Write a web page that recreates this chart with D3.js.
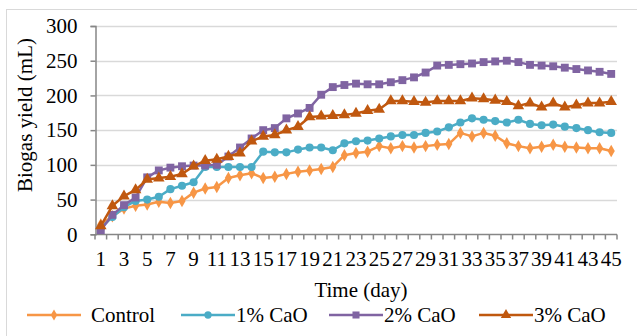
<!DOCTYPE html>
<html>
<head>
<meta charset="utf-8">
<script src="https://cdn.jsdelivr.net/npm/d3@7"></script>
<style>
  body { margin: 0; background: #fff; }
</style>
</head>
<body>
<div id="chart"></div>
<script>
// biogas yield per day
const days = d3.range(1, 46);
const control = [14, 26, 37, 41, 43, 47, 45, 48, 60, 66, 68, 81, 85, 88, 81, 83, 87, 90, 92, 94, 97, 114, 117, 119, 127, 124, 127, 125, 127, 129, 130, 146, 141, 146, 142, 131, 127, 124, 126, 129, 126, 125, 124, 124, 120];
const cao1 = [9, 25, 39, 48, 50, 54, 65, 70, 75, 97, 97, 97, 97, 97, 119, 118, 118, 122, 125, 125, 121, 131, 134, 135, 138, 141, 143, 143, 146, 148, 154, 161, 167, 165, 163, 161, 165, 159, 157, 158, 155, 153, 150, 147, 146];
const cao2 = [6, 28, 42, 53, 82, 92, 96, 98, 99, 99, 100, 112, 125, 138, 150, 153, 167, 174, 182, 201, 212, 215, 217, 216, 216, 219, 222, 226, 233, 243, 244, 245, 246, 248, 249, 250, 248, 244, 243, 242, 240, 238, 236, 234, 231];
const cao3 = [12, 41, 55, 64, 79, 81, 83, 87, 98, 106, 108, 112, 117, 134, 141, 143, 150, 155, 169, 170, 171, 172, 174, 178, 180, 192, 192, 191, 190, 192, 192, 192, 196, 195, 193, 191, 185, 189, 183, 189, 183, 186, 189, 189, 191];
const yTicks = [0, 50, 100, 150, 200, 250, 300];

const series = [
  { name: 'Control', values: control, color: '#f79646', symbol: d3.symbolDiamond, size: 45 },
  { name: '1% CaO', values: cao1, color: '#4bacc6', symbol: d3.symbolCircle, size: 52 },
  { name: '2% CaO', values: cao2, color: '#8064a2', symbol: d3.symbolSquare, size: 62 },
  { name: '3% CaO', values: cao3, color: '#c0580f', symbol: d3.symbolTriangle, size: 58 }
];

const FONT = "'Liberation Serif', serif";
const W = 637, H = 336;
const svg = d3.select('#chart').append('svg')
  .attr('width', W).attr('height', H);

// chart area border
svg.append('rect')
  .attr('x', 6.5).attr('y', 9.5)
  .attr('width', 640).attr('height', 340)
  .attr('fill', 'none').attr('stroke', '#d9d9d9');

const x = d3.scaleBand().domain(days).range([95, 617]).padding(0);
const y = d3.scaleLinear().domain([0, 300]).range([234.3, 26]);
const cx = d => x(d) + x.bandwidth() / 2;

// gridlines
svg.append('g')
  .selectAll('line')
  .data(yTicks.filter(t => t > 0))
  .enter().append('line')
  .attr('x1', 95).attr('x2', 617)
  .attr('y1', d => Math.round(y(d)) + 0.5).attr('y2', d => Math.round(y(d)) + 0.5)
  .attr('stroke', '#d9d9d9').attr('stroke-width', 1.5);

// y axis
const yAxis = svg.append('g')
  .attr('transform', 'translate(95.5,0)')
  .call(d3.axisLeft(y).tickValues(yTicks).tickSize(5).tickPadding(13));
yAxis.select('.domain').attr('stroke', '#868686').attr('stroke-width', 1.5);
yAxis.selectAll('.tick line').attr('stroke', '#868686').attr('stroke-width', 1.5);
yAxis.selectAll('.tick text')
  .attr('font-size', 21)
  .style('font-family', FONT)
  .attr('fill', '#000');

// x axis, ticks on category boundaries
const xa = svg.append('g').attr('transform', 'translate(0,' + (Math.round(y(0)) + 0.5) + ')');
xa.append('line').attr('x1', 95).attr('x2', 617).attr('stroke', '#868686').attr('stroke-width', 1.5);
xa.selectAll('.tk')
  .data(days.concat([46]))
  .enter().append('line')
  .attr('class', 'tk')
  .attr('x1', d => d <= 45 ? x(d) : 617).attr('x2', d => d <= 45 ? x(d) : 617)
  .attr('y1', 0).attr('y2', 5)
  .attr('stroke', '#868686').attr('stroke-width', 1.5);
xa.selectAll('.lbl')
  .data(days.filter(d => d % 2 === 1))
  .enter().append('text')
  .attr('class', 'lbl')
  .attr('x', cx).attr('y', 31)
  .attr('text-anchor', 'middle')
  .style('font-family', FONT)
  .attr('font-size', 21)
  .text(d => d);

// lines + markers
const line = d3.line()
  .x((d, i) => cx(days[i]))
  .y(d => y(d));

series.forEach(s => {
  const g = svg.append('g');
  g.append('path')
    .datum(s.values)
    .attr('d', line)
    .attr('fill', 'none')
    .attr('stroke', s.color)
    .attr('stroke-width', 2.5)
    .attr('stroke-linejoin', 'round');
  g.selectAll('path.mk')
    .data(s.values)
    .enter().append('path')
    .attr('class', 'mk')
    .attr('d', d3.symbol().type(s.symbol).size(s.size))
    .attr('transform', (d, i) => `translate(${cx(days[i])},${y(d)})`)
    .attr('fill', s.color);
});

// axis titles
svg.append('text')
  .attr('x', 361).attr('y', 297)
  .attr('text-anchor', 'middle')
  .style('font-family', FONT)
  .attr('font-size', 21)
  .text('Time (day)');

svg.append('text')
  .attr('transform', 'translate(32,115) rotate(-90)')
  .attr('text-anchor', 'middle')
  .style('font-family', FONT)
  .attr('font-size', 21)
  .text('Biogas yield (mL)');

// legend
const legendX = [27, 181, 329, 479];
const leg = svg.append('g');
series.forEach((s, i) => {
  const g = leg.append('g').attr('transform', `translate(${legendX[i]},315)`);
  g.append('line').attr('x1', 0).attr('x2', 54)
    .attr('stroke', s.color).attr('stroke-width', 2.5);
  g.append('path')
    .attr('d', d3.symbol().type(s.symbol).size(s.size * 0.8))
    .attr('transform', 'translate(27,0)')
    .attr('fill', s.color);
  g.append('text')
    .attr('x', i === 0 ? 64 : 55).attr('y', 7)
    .style('font-family', FONT)
    .attr('font-size', 21)
    .text(s.name);
});
</script>
</body>
</html>
